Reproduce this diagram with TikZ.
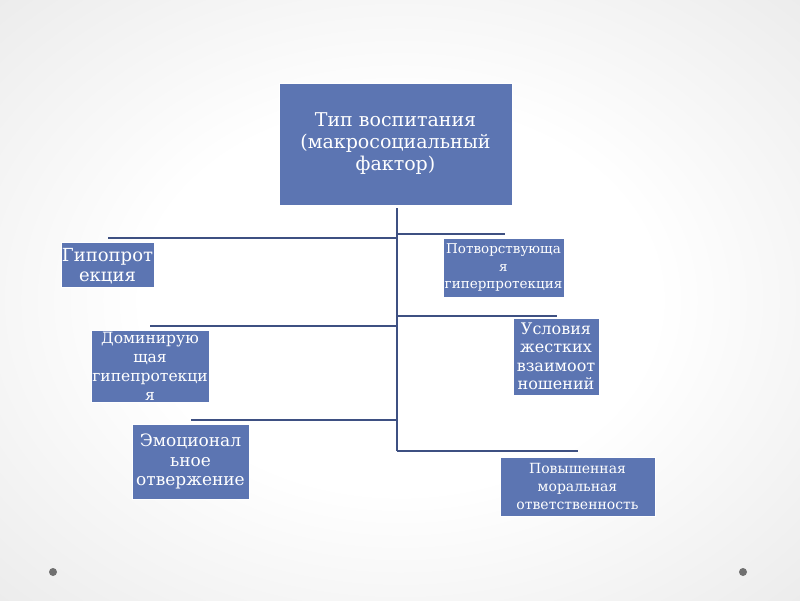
\documentclass[tikz,border=0pt]{standalone}
\usepackage{fontspec}
\setmainfont{DejaVu Serif}
\definecolor{boxblue}{RGB}{92,117,178}
\definecolor{linkblue}{RGB}{62,80,130}
\definecolor{dotgray}{RGB}{112,112,112}
\pgfdeclareradialshading{slidebg}{\pgfpoint{0bp}{0bp}}{color(0bp)=(white); color(16bp)=(white); color(50bp)=(black!13); color(71bp)=(black!18)}
\tikzset{
  box/.style={draw=white, line width=0.8pt, fill=boxblue, inner sep=0pt},
  txt/.style={text=white, align=center, inner sep=0pt},
  link/.style={draw=linkblue, line width=2.7pt},
}
\begin{document}
\begin{tikzpicture}[x=1pt,y=-1pt]
\useasboundingbox (0,0) rectangle (800,600);
\shade[shading=slidebg] (0,0) rectangle (800,600);
\fill[dotgray] (53,572) circle (4);
\fill[dotgray] (743,572) circle (4);

% boxes
\node[box, minimum width=233pt, minimum height=122pt] (top) at (395.5,144) {};
\node[txt, font=\fontsize{19}{22}\selectfont] (ttop) at (top) {Тип воспитания\\(макросоциальный\\фактор)};

\node[box, minimum width=93pt, minimum height=45pt] (b1) at (107.5,264.5) {};
\node[txt, font=\fontsize{18}{20}\selectfont] (t1) at ([yshift=-2pt]b1.center) {Гипопрот\\екция};

\node[box, minimum width=118pt, minimum height=72pt] (b2) at (150,366) {};
\node[txt, font=\fontsize{15.5}{19}\selectfont] (t2) at (b2) {Доминирую\\щая\\гипепротекци\\я};

\node[box, minimum width=117pt, minimum height=75pt] (b3) at (190.5,461.5) {};
\node[txt, font=\fontsize{17}{19.5}\selectfont] (t3) at (b3) {Эмоционал\\ьное\\отвержение};

\node[box, minimum width=121pt, minimum height=59pt] (b4) at (503.5,267.5) {};
\node[txt, font=\fontsize{13.5}{17.5}\selectfont] (t4) at (b4) {Потворствующа\\я\\гиперпротекция};

\node[box, minimum width=86pt, minimum height=77pt] (b5) at (556,356.5) {};
\node[txt, font=\fontsize{16}{18.5}\selectfont] (t5) at (b5) {Условия\\жестких\\взаимоот\\ношений};

\node[box, minimum width=155pt, minimum height=59pt] (b6) at (577.5,486.5) {};
\node[txt, font=\fontsize{14}{18}\selectfont] (t6) at (b6) {Повышенная\\моральная\\ответственность};

% connectors
\coordinate (tr0) at (397,208);
\coordinate (tr1) at (397,451);
\coordinate (jl1) at (397,238);
\coordinate (jl2) at (397,326);
\coordinate (jl3) at (397,420);
\coordinate (jr1) at (397,234);
\coordinate (jr2) at (397,316);
\coordinate (jr3) at (397,451);
\coordinate (er1) at (505,234);
\coordinate (er2) at (557,316);
\coordinate (er3) at (578,451);

\draw[link] (tr0) -- (tr1);
\draw[link] (jl1) -- (jl1 -| b1);
\draw[link] (jl2) -- (jl2 -| b2);
\draw[link] (jl3) -- (jl3 -| b3);
\draw[link] (jr1) -- (er1);
\draw[link] (jr2) -- (er2);
\draw[link] (jr3) -- (er3);
\end{tikzpicture}
\end{document}
